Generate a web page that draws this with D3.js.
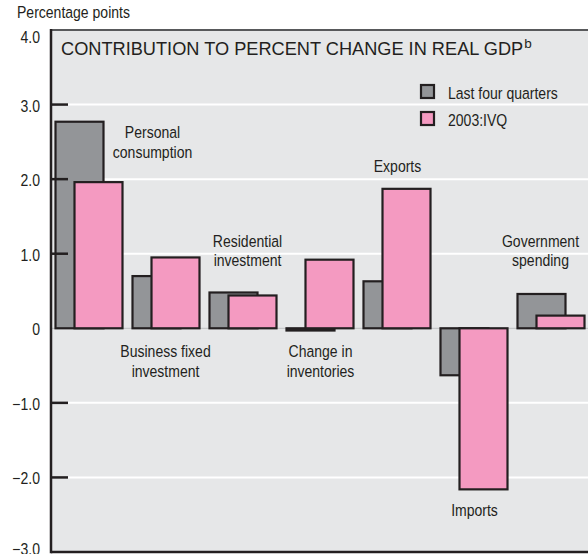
<!DOCTYPE html>
<html>
<head>
<meta charset="utf-8">
<script src="https://cdn.jsdelivr.net/npm/d3@7"></script>
<style>
  html, body { margin: 0; padding: 0; background: #ffffff; }
  svg { display: block; }
</style>
</head>
<body>
<div id="chart"></div>
<script>
// Contribution to percent change in real GDP, by component

const categories = [
  "Personal consumption",
  "Business fixed investment",
  "Residential investment",
  "Change in inventories",
  "Exports",
  "Imports",
  "Government spending"
];

const seriesNames = ["Last four quarters", "2003:IVQ"];

const lastFourQuarters = [2.77, 0.70, 0.48, -0.03, 0.63, -0.63, 0.46];
const q4of2003 = [1.96, 0.95, 0.44, 0.92, 1.87, -2.16, 0.17];

const categoryLines = [
  ["Personal", "consumption"],
  ["Business fixed", "investment"],
  ["Residential", "investment"],
  ["Change in", "inventories"],
  ["Exports"],
  ["Imports"],
  ["Government", "spending"]
];

const yTicks = [4, 3, 2, 1, 0, -1, -2, -3];
const yTickLabels = ["4.0", "3.0", "2.0", "1.0", "0", "\u22121.0", "\u22122.0", "\u22123.0"];

function drawChart() {
  const width = 588;
  const height = 554;
  const left = 51;
  const top = 30;
  const bottom = 552;

  // no narrow face installed, so squeeze Liberation Sans horizontally
  const font = '"Liberation Sans", Arial, Helvetica, sans-serif';
  const narrowSize = 16.5;
  const squeeze = "scale(0.85,1)";
  const ink = "#231f20";
  const fills = ["#939598", "#f49ac1"];

  const svg = d3.select("#chart")
    .append("svg")
    .attr("width", width)
    .attr("height", height)
    .attr("viewBox", [0, 0, width, height]);

  const x = d3.scaleBand()
    .domain(categories)
    .range([left, left + 77 * categories.length])
    .paddingInner(0)
    .paddingOuter(0);

  const y = d3.scaleLinear()
    .domain([-3, 4])
    .range([bottom, top]);

  // series offsets inside each band (bars overlap)
  const barWidth = 48;
  const offset = d3.scaleOrdinal().domain(seriesNames).range([4.5, 23.5]);

  // panel background
  svg.append("rect")
    .attr("x", left)
    .attr("y", top)
    .attr("width", width - left + 4)
    .attr("height", bottom - top)
    .attr("fill", "#e6e7e8");

  const gridTicks = yTicks.filter(function(d) { return d !== 4 && d !== -3 && d !== 0; });

  // white grid lines
  svg.append("g")
    .selectAll("line")
    .data(gridTicks)
    .join("line")
    .attr("x1", left + 17)
    .attr("x2", width)
    .attr("y1", function(d) { return y(d); })
    .attr("y2", function(d) { return y(d); })
    .attr("stroke", "#ffffff")
    .attr("stroke-width", 2);

  // faint zero line
  svg.append("line")
    .attr("x1", left)
    .attr("x2", width)
    .attr("y1", y(0))
    .attr("y2", y(0))
    .attr("stroke", "#bcbec0")
    .attr("stroke-width", 1);

  // bars
  const rows = categories.map(function(c, i) {
    return [
      { cat: c, series: seriesNames[0], value: lastFourQuarters[i] },
      { cat: c, series: seriesNames[1], value: q4of2003[i] }
    ];
  });

  svg.append("g")
    .selectAll("g")
    .data(rows)
    .join("g")
    .selectAll("rect")
    .data(function(d) { return d; })
    .join("rect")
    .attr("x", function(d) { return x(d.cat) + offset(d.series); })
    .attr("y", function(d) { return y(Math.max(0, d.value)); })
    .attr("width", barWidth)
    .attr("height", function(d) { return Math.abs(y(d.value) - y(0)); })
    .attr("fill", function(d) { return fills[seriesNames.indexOf(d.series)]; })
    .attr("stroke", ink)
    .attr("stroke-width", 2.2);

  // frame: grey top, black left axis and bottom
  svg.append("line")
    .attr("x1", left).attr("x2", width)
    .attr("y1", top).attr("y2", top)
    .attr("stroke", "#58595b")
    .attr("stroke-width", 2);

  svg.append("line")
    .attr("x1", left).attr("x2", width)
    .attr("y1", bottom).attr("y2", bottom)
    .attr("stroke", ink)
    .attr("stroke-width", 2.5);

  svg.append("line")
    .attr("x1", left).attr("x2", left)
    .attr("y1", top - 1).attr("y2", bottom + 1.25)
    .attr("stroke", ink)
    .attr("stroke-width", 2.5);

  // inner tick marks
  svg.append("g")
    .selectAll("line")
    .data(gridTicks)
    .join("line")
    .attr("x1", left)
    .attr("x2", left + 17)
    .attr("y1", function(d) { return y(d); })
    .attr("y2", function(d) { return y(d); })
    .attr("stroke", ink)
    .attr("stroke-width", 2.5);

  // tick labels (top one nudged down under the axis title, bottom one up a bit)
  svg.append("g")
    .selectAll("text")
    .data(yTicks)
    .join("text")
    .attr("transform", function(d) {
      const nudge = d === 4 ? 7 : (d === -3 ? -3 : 1);
      return "translate(40," + (y(d) + nudge) + ")" + squeeze;
    })
    .attr("dy", "0.36em")
    .attr("text-anchor", "end")
    .attr("fill", ink)
    .attr("font-family", font)
    .attr("font-size", narrowSize)
    .text(function(d, i) { return yTickLabels[i]; });

  svg.append("text")
    .attr("transform", "translate(17,18)" + squeeze)
    .attr("fill", ink)
    .attr("font-family", font)
    .attr("font-size", narrowSize)
    .text("Percentage points");

  // title
  const title = svg.append("text")
    .attr("x", 61)
    .attr("y", 55)
    .attr("fill", ink)
    .attr("font-family", font)
    .attr("font-size", 18.2)
    .text("CONTRIBUTION TO PERCENT CHANGE IN REAL GDP");

  title.append("tspan")
    .attr("dx", 1)
    .attr("dy", -7)
    .attr("font-size", 13.5)
    .text("b");

  // legend
  const legend = svg.append("g")
    .selectAll("g")
    .data(seriesNames)
    .join("g")
    .attr("transform", function(d, i) { return "translate(421," + (85 + i * 27) + ")"; });

  legend.append("rect")
    .attr("width", 13)
    .attr("height", 13)
    .attr("fill", function(d, i) { return fills[i]; })
    .attr("stroke", ink)
    .attr("stroke-width", 2.2);

  legend.append("text")
    .attr("transform", "translate(27,14)" + squeeze)
    .attr("fill", ink)
    .attr("font-family", font)
    .attr("font-size", narrowSize)
    .text(function(d) { return d; });

  // category labels: horizontal shift from band centre, baseline in data units
  const labelShift = [63, -1, 4, 0, 0, 0, -11];
  const labelLevel = [2.55, -0.39, 1.09, -0.39, 2.09, -2.52, 1.09];

  const labels = svg.append("g")
    .selectAll("text")
    .data(categories)
    .join("text")
    .attr("text-anchor", "middle")
    .attr("fill", ink)
    .attr("font-family", font)
    .attr("font-size", narrowSize)
    .attr("transform", function(d, i) {
      return "translate(" + (x(d) + x.bandwidth() / 2 + labelShift[i]) + "," + y(labelLevel[i]) + ")" + squeeze;
    });

  labels.selectAll("tspan")
    .data(function(d, i) { return categoryLines[i]; })
    .join("tspan")
    .attr("x", 0)
    .attr("y", function(d, j) { return j * 19.5; })
    .text(function(d) { return d; });
}

drawChart();
</script>
</body>
</html>
